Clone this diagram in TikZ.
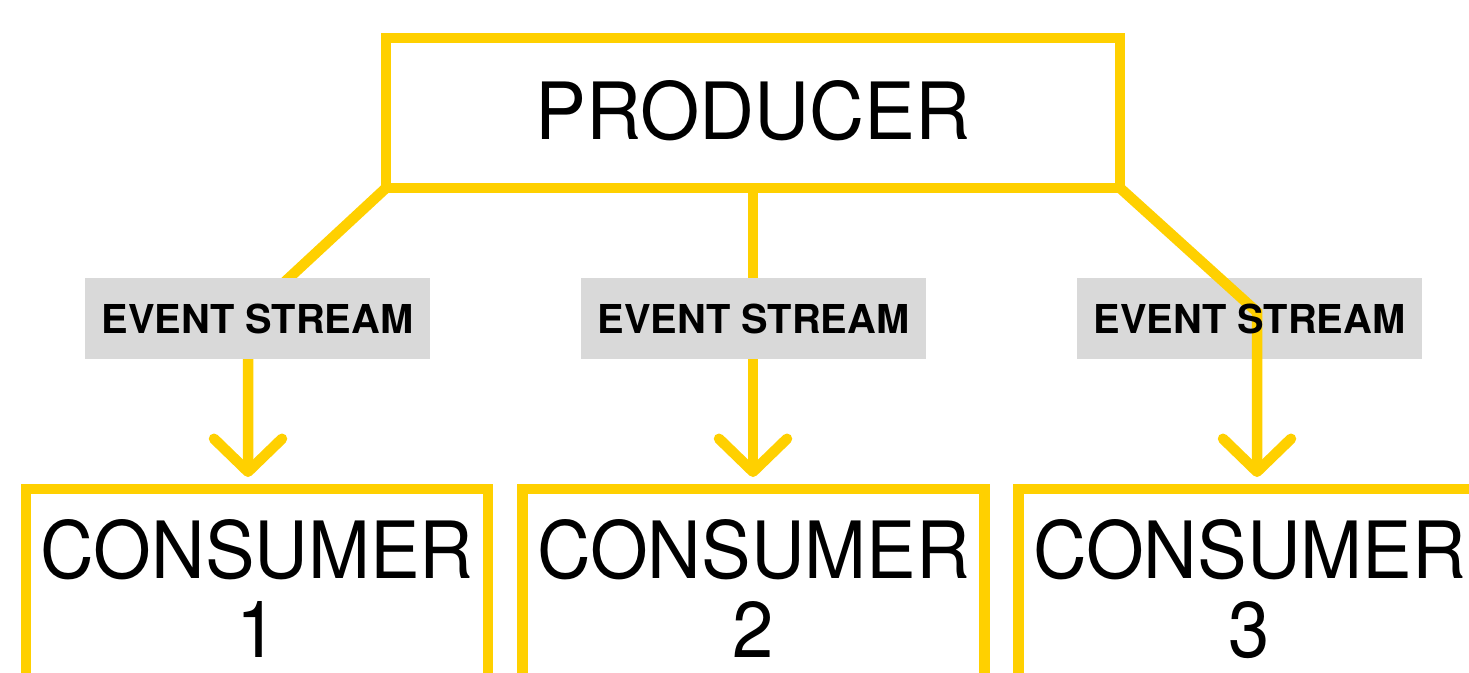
\documentclass[tikz,border=0pt]{standalone}
\usepackage{fontspec}
\newfontfamily\boxfont{TeX Gyre Heros}[FakeStretch=0.94]
\newfontfamily\titlefont{TeX Gyre Heros}[FakeStretch=0.965]
\newfontfamily\tagfont{TeX Gyre Heros}
\usetikzlibrary{arrows.meta}
\definecolor{gold}{RGB}{255,208,0}
\definecolor{taggray}{RGB}{217,217,217}
\pgfdeclarelayer{textlayer}
\pgfsetlayers{main,textlayer}
\tikzset{
  framebox/.style={draw=gold, line width=10.5pt, inner sep=0pt, outer sep=0pt},
  consumerbox/.style={framebox, anchor=north, text height=89pt, text depth=200pt},
  streamtag/.style={fill=taggray, minimum width=345pt, minimum height=81pt, inner sep=0pt,
    font=\tagfont\bfseries\fontsize{39.8}{44}\selectfont},
  flowline/.style={draw=gold, line width=10.5pt, shorten >=12pt,
    -{Straight Barb[length=33pt,width=68pt,round]}}
}
\newcommand{\consumertext}[1]{\parbox[t]{462pt}{\centering\boxfont\fontsize{79}{79}\selectfont CONSUMER\\#1}}
\begin{document}
\begin{tikzpicture}[x=1pt,y=-1pt]
  \fill[white] (0,0) rectangle (1469,672);
  \clip (0,0) rectangle (1469,672);

  % producer
  \node[framebox, minimum width=734pt, minimum height=150pt, text depth=6pt,
        font=\titlefont\fontsize{79}{79}\selectfont] (p) at (753,113) {PRODUCER};

  % consumers
  \node[consumerbox] (c1) at (257,489) {\consumertext{1}};
  \node[consumerbox] (c2) at (753.5,489) {\consumertext{2}};
  \node[consumerbox] (c3) at (1249.5,489) {\consumertext{3}};

  % bends of the side streams
  \coordinate (b1) at (248,316);
  \coordinate (b3) at (1257,312);

  % streams under their tags
  \draw[flowline] (p.south west) -- (b1) -- (b1 |- c1.north);
  \draw[flowline] (p.south) -- (p.south |- c2.north);
  \node[streamtag] (e1) at (257.5,318.5) {EVENT STREAM};
  \node[streamtag] (e2) at (753.5,318.5) {EVENT STREAM};

  % third tag: its stream runs over the grey box, below the text
  \begin{pgfonlayer}{textlayer}
    \node[streamtag, fill=none] (e3) at (1249.5,318.5) {EVENT STREAM};
  \end{pgfonlayer}
  \fill[taggray] (e3.south west) rectangle (e3.north east);
  \draw[flowline] (p.south east) -- (b3) -- (b3 |- c3.north);
\end{tikzpicture}
\end{document}
